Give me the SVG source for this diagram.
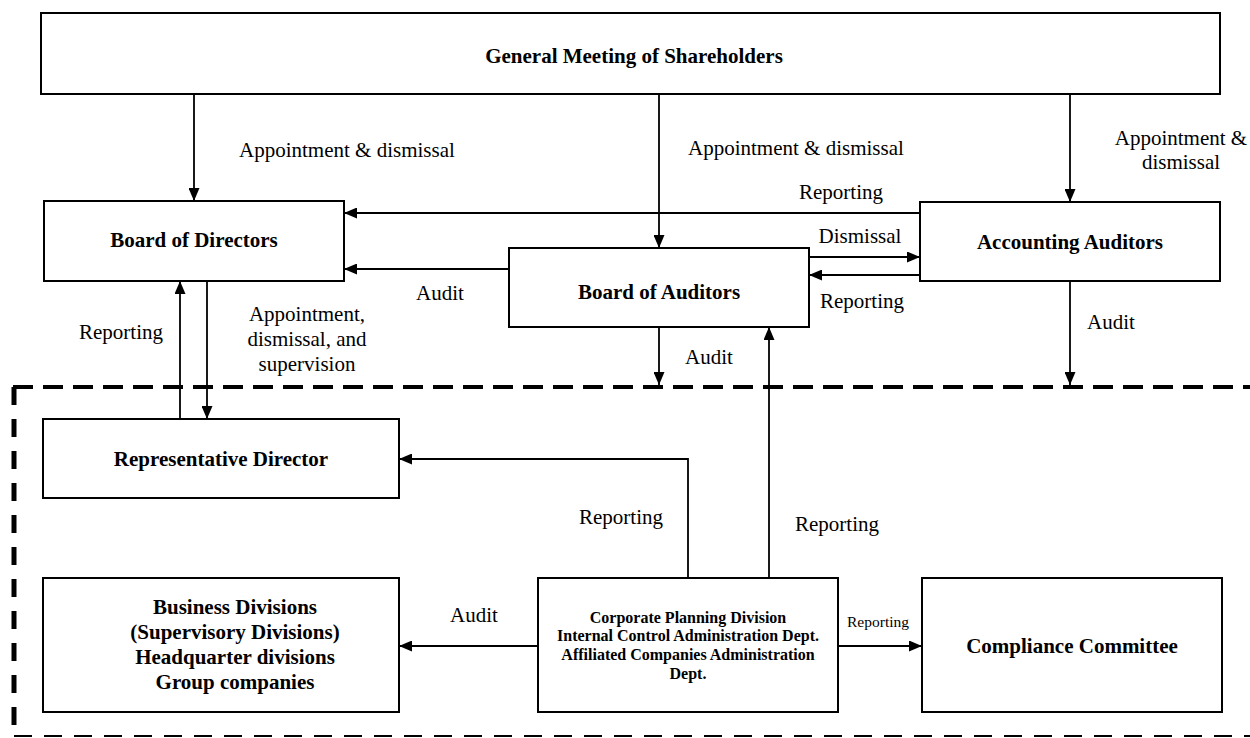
<svg xmlns="http://www.w3.org/2000/svg" width="1250" height="738" viewBox="0 0 1250 738">
<style>
.box{fill:#fff;stroke:#000;stroke-width:2}
.c{fill:none;stroke:#000;stroke-width:1.8}
.lbl{font-family:"Liberation Serif",serif;font-size:21px;fill:#000}
.nt{font-family:"Liberation Serif",serif;font-size:21px;font-weight:bold;fill:#000;text-anchor:middle}
.ns{font-family:"Liberation Serif",serif;font-size:16px;font-weight:bold;fill:#000;text-anchor:middle}
.mid{text-anchor:middle}
</style>
<defs>
<marker id="ah" markerUnits="userSpaceOnUse" markerWidth="13" markerHeight="11" refX="13" refY="5.5" orient="auto">
<path d="M0,0 L13,5.5 L0,11 z" fill="#000"/>
</marker>
</defs>
<rect width="1250" height="738" fill="#fff"/>
<g id="boundary" fill="none" stroke="#000">
<line x1="13" y1="387" x2="1250" y2="387" stroke-width="4" stroke-dasharray="20 10"/>
<line x1="14" y1="387" x2="14" y2="737" stroke-width="5" stroke-dasharray="18 14"/>
<line x1="14" y1="736" x2="1250" y2="736" stroke-width="2" stroke-dasharray="18 12"/>
</g>
<g id="gms"><rect class="box" x="41" y="13" width="1179" height="81"/><text class="nt" x="634" y="63">General Meeting of Shareholders</text></g>
<g id="bod"><rect class="box" x="44" y="201" width="300" height="80"/><text class="nt" x="194" y="247">Board of Directors</text></g>
<g id="boa"><rect class="box" x="509" y="248" width="300" height="79"/><text class="nt" x="659" y="299">Board of Auditors</text></g>
<g id="aa"><rect class="box" x="920" y="202" width="300" height="79"/><text class="nt" x="1070" y="249">Accounting Auditors</text></g>
<g id="rd"><rect class="box" x="43" y="419" width="356" height="79"/><text class="nt" x="221" y="466">Representative Director</text></g>
<g id="bd"><rect class="box" x="43" y="578" width="356" height="134"/>
<text class="nt" x="235" y="614">Business Divisions</text>
<text class="nt" x="235" y="639">(Supervisory Divisions)</text>
<text class="nt" x="235" y="664">Headquarter divisions</text>
<text class="nt" x="235" y="689">Group companies</text></g>
<g id="cp"><rect class="box" x="538" y="578" width="300" height="134"/>
<text class="ns" x="688" y="623">Corporate Planning Division</text>
<text class="ns" x="688" y="641">Internal Control Administration Dept.</text>
<text class="ns" x="688" y="660">Affiliated Companies Administration</text>
<text class="ns" x="688" y="679">Dept.</text></g>
<g id="cc"><rect class="box" x="922" y="578" width="300" height="134"/><text class="nt" x="1072" y="653">Compliance Committee</text></g>
<g id="connectors">
<path class="c" d="M194,94 V201" marker-end="url(#ah)"/>
<path class="c" d="M659,94 V248" marker-end="url(#ah)"/>
<path class="c" d="M1070,94 V202" marker-end="url(#ah)"/>
<path class="c" d="M920,213 H344" marker-end="url(#ah)"/>
<path class="c" d="M509,269 H344" marker-end="url(#ah)"/>
<path class="c" d="M809,257 H920" marker-end="url(#ah)"/>
<path class="c" d="M920,275 H809" marker-end="url(#ah)"/>
<path class="c" d="M659,327 V385" marker-end="url(#ah)"/>
<path class="c" d="M1070,281 V385" marker-end="url(#ah)"/>
<path class="c" d="M180,419 V281" marker-end="url(#ah)"/>
<path class="c" d="M207,281 V419" marker-end="url(#ah)"/>
<path class="c" d="M688,578 V459 H399" marker-end="url(#ah)"/>
<path class="c" d="M769,578 V327" marker-end="url(#ah)"/>
<path class="c" d="M538,646 H399" marker-end="url(#ah)"/>
<path class="c" d="M838,646 H922" marker-end="url(#ah)"/>
</g>
<g id="labels">
<text class="lbl" x="239" y="157">Appointment &amp; dismissal</text>
<text class="lbl" x="688" y="155">Appointment &amp; dismissal</text>
<text class="lbl mid" x="1181" y="145">Appointment &amp;</text>
<text class="lbl mid" x="1181" y="169">dismissal</text>
<text class="lbl mid" x="841" y="199">Reporting</text>
<text class="lbl mid" x="860" y="243">Dismissal</text>
<text class="lbl mid" x="862" y="308">Reporting</text>
<text class="lbl mid" x="440" y="300">Audit</text>
<text class="lbl mid" x="709" y="364">Audit</text>
<text class="lbl mid" x="1111" y="329">Audit</text>
<text class="lbl mid" x="121" y="339">Reporting</text>
<text class="lbl mid" x="307" y="321">Appointment,</text>
<text class="lbl mid" x="307" y="346">dismissal, and</text>
<text class="lbl mid" x="307" y="371">supervision</text>
<text class="lbl mid" x="621" y="524">Reporting</text>
<text class="lbl mid" x="837" y="531">Reporting</text>
<text class="lbl mid" x="474" y="622">Audit</text>
<text class="lbl mid" x="878" y="627" style="font-size:15.5px">Reporting</text>
</g>
</svg>
